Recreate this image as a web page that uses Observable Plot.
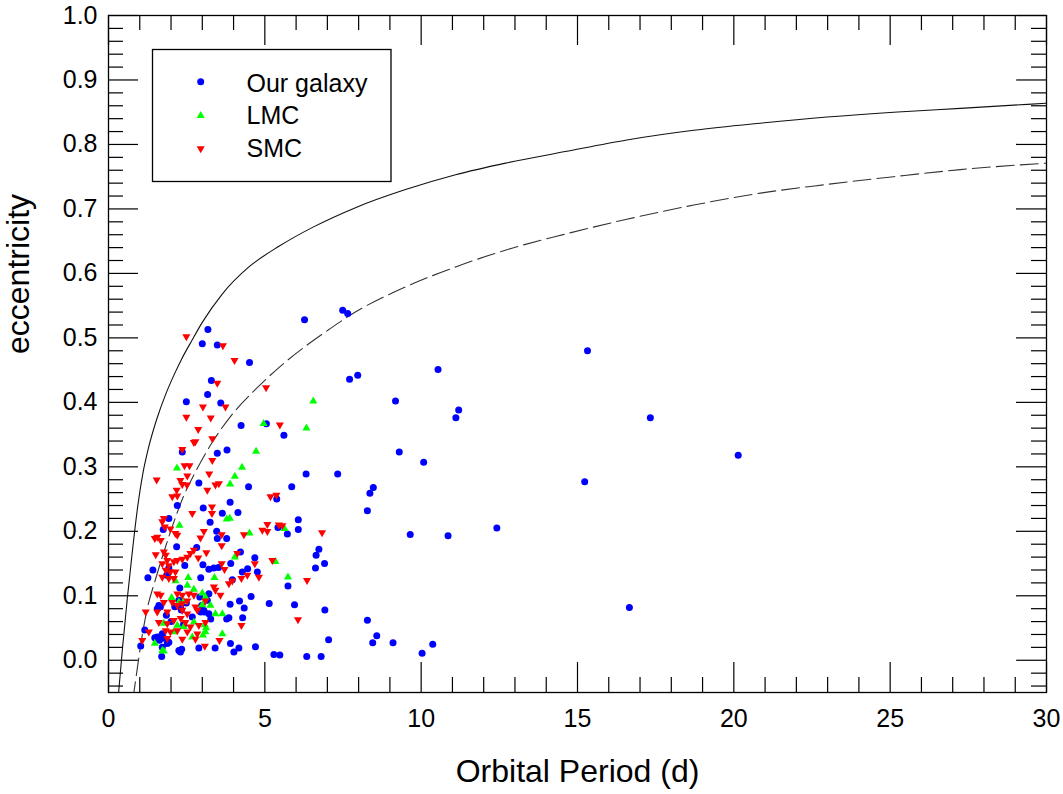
<!DOCTYPE html>
<html>
<head>
<meta charset="utf-8">
<script src="https://cdn.jsdelivr.net/npm/d3@7"></script>
<script src="https://cdn.jsdelivr.net/npm/@observablehq/plot@0.6"></script>
<style>
  html, body { margin: 0; padding: 0; background: #fff; }
  #chart { position: relative; width: 1063px; height: 794px; }
</style>
</head>
<body>
<div id="chart"></div>
<script>
// ---- data (orbital period P in days, eccentricity e) ----
const galaxy = [
  [3.18,0.513],[3.00,0.491],[3.48,0.489],[4.51,0.462],[3.29,0.434],[3.17,0.412],[2.49,0.401],[3.59,0.399],
  [4.24,0.364],[5.05,0.367],[5.61,0.349],[2.36,0.323],[3.79,0.326],[3.48,0.321],[6.32,0.289],[2.89,0.275],
  [4.48,0.269],[5.86,0.269],[6.27,0.528],[7.33,0.289],[5.38,0.250],
  [3.89,0.245],[3.03,0.236],[3.64,0.228],[4.14,0.229],[6.07,0.218],[3.25,0.214],[5.42,0.206],[6.07,0.203],
  [5.72,0.196],[3.46,0.200],[3.48,0.189],[3.78,0.189],[2.18,0.176],[2.82,0.175],[4.22,0.168],[6.73,0.172],
  [6.64,0.163],[6.91,0.150],[6.62,0.143],[4.68,0.159],[2.44,0.147],[3.02,0.148],[3.21,0.141],[3.37,0.143],
  [3.52,0.144],[3.91,0.150],[4.28,0.137],[4.45,0.142],[4.76,0.137],[1.42,0.140],[1.26,0.128],[1.93,0.143],
  [1.86,0.132],[2.95,0.128],[3.96,0.125],[5.74,0.115],[3.21,0.103],[2.28,0.112],[4.56,0.099],[5.14,0.088],
  [5.95,0.086],[6.92,0.078],[3.89,0.087],[4.19,0.092],[4.34,0.081],[3.06,0.075],[3.78,0.064],[3.85,0.066],
  [4.29,0.066],[3.27,0.064],[1.61,0.085],[1.56,0.080],[2.12,0.083],[2.49,0.089],[2.33,0.078],[2.98,0.085],
  [2.95,0.075],[1.16,0.047],[1.48,0.035],[1.63,0.031],[1.77,0.034],[1.72,0.041],[1.93,0.028],[1.70,0.006],
  [2.25,0.015],[2.34,0.017],[1.03,0.022],[2.89,0.019],[3.41,0.019],[3.90,0.026],[4.01,0.013],[4.17,0.019],
  [4.70,0.021],[5.29,0.009],[5.48,0.008],[6.34,0.006],[6.80,0.006],[7.04,0.032],
  [1.93,0.220],[1.75,0.203],[2.20,0.240],[2.25,0.093],[2.30,0.083],[1.66,0.083],[1.56,0.036],[1.72,0.020],
  [1.88,0.026],[2.30,0.013],[2.68,0.067],[3.05,0.077],[3.21,0.072],[2.92,0.098],[3.16,0.093],[2.00,0.060],
  [2.40,0.055],[1.85,0.070],
  [7.49,0.543],[7.65,0.538],[15.32,0.480],[10.54,0.451],[7.71,0.436],[7.97,0.442],[9.18,0.402],[11.20,0.388],
  [11.11,0.376],[17.33,0.376],[9.30,0.323],[10.08,0.307],[20.14,0.318],[8.47,0.268],[8.36,0.259],[8.28,0.232],
  [15.23,0.277],[9.65,0.195],[10.86,0.193],[12.42,0.205],[16.66,0.082],[8.28,0.062],[8.58,0.038],[8.45,0.027],
  [9.10,0.027],[10.03,0.011],[10.37,0.025]
];
const lmc = [
  [6.55,0.402],[4.96,0.367],[6.33,0.360],[4.72,0.324],[4.27,0.299],[2.19,0.298],[4.04,0.285],[3.89,0.273],
  [3.78,0.219],[3.88,0.220],[2.27,0.209],[4.51,0.197],[5.63,0.204],[4.04,0.160],[5.34,0.153],[2.55,0.128],
  [3.39,0.128],[5.74,0.129],[2.14,0.123],[2.73,0.110],[3.00,0.104],[2.52,0.116],[2.02,0.097],[2.25,0.090],
  [3.10,0.098],[3.26,0.085],[3.42,0.072],[3.64,0.072],[2.41,0.091],[3.00,0.086],[1.77,0.057],[2.20,0.054],
  [2.41,0.052],[2.73,0.059],[3.08,0.055],[3.12,0.050],[3.64,0.041],[2.09,0.044],[2.68,0.036],[3.02,0.039],
  [3.10,0.044],[1.48,0.026],[1.72,0.015],[1.77,0.014]
];
const smc = [
  [2.49,0.502],[3.66,0.488],[4.03,0.465],[3.48,0.430],[5.04,0.423],[3.02,0.393],[3.74,0.393],[2.49,0.377],
  [3.27,0.376],[5.48,0.365],[2.87,0.358],[3.32,0.344],[2.73,0.338],[2.78,0.339],[2.36,0.327],[3.32,0.310],
  [2.43,0.302],[2.59,0.302],[2.52,0.286],[3.22,0.289],[1.54,0.280],[2.30,0.279],[2.36,0.273],[2.51,0.272],
  [3.42,0.272],[3.53,0.274],[3.16,0.264],[2.18,0.264],[2.04,0.254],[5.18,0.254],[5.37,0.256],
  [2.20,0.255],[2.68,0.228],[3.31,0.238],[3.31,0.228],[1.77,0.220],[1.72,0.215],[1.80,0.207],[1.98,0.204],
  [2.14,0.197],[2.20,0.194],[1.56,0.191],[1.67,0.186],[1.48,0.189],[3.05,0.200],[2.94,0.190],[3.62,0.195],
  [3.62,0.178],[4.33,0.195],[5.08,0.211],[4.92,0.202],[5.08,0.200],[5.45,0.210],[5.56,0.209],[6.83,0.198],
  [2.73,0.171],[2.62,0.166],[2.52,0.160],[2.36,0.157],[2.87,0.159],[3.13,0.167],[1.51,0.164],[1.77,0.168],
  [1.83,0.163],[1.88,0.155],[1.72,0.150],[2.09,0.153],[2.20,0.155],[1.93,0.147],[1.83,0.140],[1.98,0.137],
  [2.14,0.137],[1.72,0.129],[1.93,0.127],[2.09,0.127],[4.12,0.166],[3.62,0.150],[3.71,0.141],[4.68,0.150],
  [5.24,0.155],[4.44,0.132],[4.25,0.127],[3.96,0.123],[4.81,0.129],[6.35,0.124],[3.37,0.114],[3.42,0.109],
  [3.85,0.119],[1.56,0.103],[1.67,0.101],[2.20,0.103],[2.36,0.101],[2.57,0.103],[2.73,0.101],[1.77,0.090],
  [2.04,0.090],[2.20,0.085],[2.36,0.088],[2.52,0.092],[2.78,0.083],[3.10,0.092],[3.58,0.101],[1.19,0.075],
  [1.56,0.075],[1.88,0.075],[2.36,0.078],[2.52,0.072],[2.84,0.078],[1.61,0.059],[1.88,0.057],[2.09,0.062],
  [2.31,0.065],[2.46,0.059],[2.62,0.052],[2.89,0.054],[3.10,0.059],[1.29,0.044],[1.83,0.046],[1.98,0.044],
  [2.20,0.046],[2.52,0.044],[2.84,0.041],[1.08,0.031],[1.88,0.034],[2.36,0.033],[2.78,0.033],[3.08,0.022],
  [3.55,0.031],[4.25,0.054],[6.06,0.063]
];
// limiting curves
const solidCurve = [
  [0.30,-0.062],[0.323,-0.05],[0.45,0.020],[0.60,0.095],[0.75,0.163],[0.93,0.237],[1.10,0.290],
  [1.282,0.330],[1.55,0.375],[1.825,0.412],[2.10,0.443],[2.337,0.467],[2.679,0.497],[2.999,0.524],
  [3.638,0.568],[4.49,0.610],[5.45,0.642],[6.51,0.671],[7.90,0.702],[9.50,0.730],[11.10,0.753],
  [12.70,0.771],[14.61,0.789],[16.58,0.807],[18.72,0.822],[20.85,0.833],[22.98,0.8425],[25.11,0.850],
  [27.24,0.856],[30.0,0.864]
];
const dashedCurve = [
  [0.78,-0.061],[0.812,-0.05],[0.92,-0.013],[1.08,0.039],[1.24,0.080],[1.506,0.126],[1.825,0.176],
  [2.145,0.222],[2.38,0.252],[2.78,0.292],[3.32,0.338],[3.90,0.378],[4.70,0.420],[5.45,0.454],
  [6.30,0.487],[7.05,0.513],[7.79,0.537],[9.50,0.579],[11.10,0.610],[12.69,0.636],[14.61,0.661],
  [16.58,0.684],[18.72,0.706],[20.85,0.7245],[22.98,0.738],[25.11,0.750],[27.24,0.761],[30.0,0.771]
];
// axis ticks
const xMajor = [0, 5, 10, 15, 20, 25, 30];
const xMinor = [1,2,3,4,6,7,8,9,11,12,13,14,16,17,18,19,21,22,23,24,26,27,28,29];
const yMajor = [0.0, 0.1, 0.2, 0.3, 0.4, 0.5, 0.6, 0.7, 0.8, 0.9, 1.0];
const yMinor = [-0.04,-0.02,0.02,0.04,0.06,0.08,0.12,0.14,0.16,0.18,0.22,0.24,0.26,0.28,0.32,0.34,0.36,0.38,
  0.42,0.44,0.46,0.48,0.52,0.54,0.56,0.58,0.62,0.64,0.66,0.68,0.72,0.74,0.76,0.78,0.82,0.84,0.86,0.88,
  0.92,0.94,0.96,0.98];
const seriesNames = ["Our galaxy", "LMC", "SMC"];
const seriesColors = ["#0000ff", "#00ff00", "#ff0000"];
const xTitle = "Orbital Period (d)";
const yTitle = "eccentricity";

const FONT = "'Liberation Sans', Arial, Helvetica, sans-serif";
const W = 1063, H = 794;
const mL = 108, mR = 17, mT = 15, mB = 102;
const FW = W - mL - mR;   // frame width
const FH = H - mT - mB;   // frame height
const tickW = 1.2;
const MAJ = 30, MIN = 15;

const plot = Plot.plot({
  width: W,
  height: H,
  marginLeft: mL,
  marginRight: mR,
  marginTop: mT,
  marginBottom: mB,
  x: {domain: [0, 30], label: null},
  y: {domain: [-0.05, 1.0], label: null},
  style: {fontFamily: FONT, fontSize: "25px", color: "black", background: "white", overflow: "visible"},
  marks: [
    Plot.line(solidCurve, {x: d => d[0], y: d => d[1], curve: "monotone-x", stroke: "#111", strokeWidth: 1.1, clip: true}),
    Plot.line(dashedCurve, {x: d => d[0], y: d => d[1], curve: "monotone-x", stroke: "#333", strokeWidth: 1.1, strokeDasharray: "18,6", clip: true}),
    Plot.dot(galaxy, {x: d => d[0], y: d => d[1], r: 3.5, symbol: "circle", fill: seriesColors[0], stroke: "none"}),
    Plot.dot(lmc, {x: d => d[0], y: d => d[1], r: 3, symbol: "triangle", fill: seriesColors[1], stroke: "none"}),
    Plot.dot(smc, {x: d => d[0], y: d => d[1], r: 3, symbol: "triangle", rotate: 180, fill: seriesColors[2], stroke: "none"}),
    // inward ticks on all four sides (tick marks spanning the frame, inset to the tick length)
    Plot.tickX(xMajor, {x: d => d, insetTop: FH - MAJ, stroke: "black", strokeWidth: tickW}),
    Plot.tickX(xMinor, {x: d => d, insetTop: FH - MIN, stroke: "black", strokeWidth: tickW}),
    Plot.tickX(xMajor, {x: d => d, insetBottom: FH - MAJ, stroke: "black", strokeWidth: tickW}),
    Plot.tickX(xMinor, {x: d => d, insetBottom: FH - MIN, stroke: "black", strokeWidth: tickW}),
    Plot.tickY(yMajor, {y: d => d, insetRight: FW - MAJ, stroke: "black", strokeWidth: tickW}),
    Plot.tickY(yMinor, {y: d => d, insetRight: FW - MIN, stroke: "black", strokeWidth: tickW}),
    Plot.tickY(yMajor, {y: d => d, insetLeft: FW - MAJ, stroke: "black", strokeWidth: tickW}),
    Plot.tickY(yMinor, {y: d => d, insetLeft: FW - MIN, stroke: "black", strokeWidth: tickW}),
    // tick labels
    Plot.axisX(xMajor, {anchor: "bottom", tickSize: 0, tickPadding: 17, fontSize: 25, tickFormat: d => String(d), label: null}),
    Plot.axisY(yMajor, {anchor: "left", tickSize: 0, tickPadding: 11, fontSize: 25, tickFormat: d => d.toFixed(1), label: null}),
    Plot.frame({stroke: "black", strokeWidth: 1.3}),
    // axis titles
    Plot.text([xTitle], {frameAnchor: "bottom", dy: 89, lineAnchor: "bottom", fontSize: 32, fill: "black"}),
    Plot.text([yTitle], {frameAnchor: "left", dx: -80, rotate: -90, lineAnchor: "bottom", fontSize: 32, fill: "black"})
  ]
});

document.getElementById("chart").appendChild(plot);

// ---- legend box inside the plot area ----
const svg = d3.select(plot);
const lg = svg.append("g").attr("class", "legend").attr("text-anchor", "start");
lg.append("rect")
  .attr("x", 152.5).attr("y", 49.5).attr("width", 238.5).attr("height", 132)
  .attr("fill", "white").attr("stroke", "black").attr("stroke-width", 1.3);
const legendSymbols = [
  {sym: d3.symbolCircle, r: 3.5, rot: 0},
  {sym: d3.symbolTriangle, r: 3, rot: 0},
  {sym: d3.symbolTriangle, r: 3, rot: 180}
];
const rowY = [81.7, 115.7, 148.7];
const baseY = [91.5, 124, 156.5];
seriesNames.forEach((name, i) => {
  const s = legendSymbols[i];
  lg.append("path")
    .attr("d", d3.symbol(s.sym, Math.PI * s.r * s.r)())
    .attr("transform", `translate(200.7,${rowY[i]}) rotate(${s.rot})`)
    .attr("fill", seriesColors[i]);
  lg.append("text")
    .attr("x", 246.5).attr("y", baseY[i])
    .attr("text-anchor", "start")
    .attr("font-family", FONT).attr("font-size", 25).attr("fill", "black")
    .text(name);
});
</script>
</body>
</html>
